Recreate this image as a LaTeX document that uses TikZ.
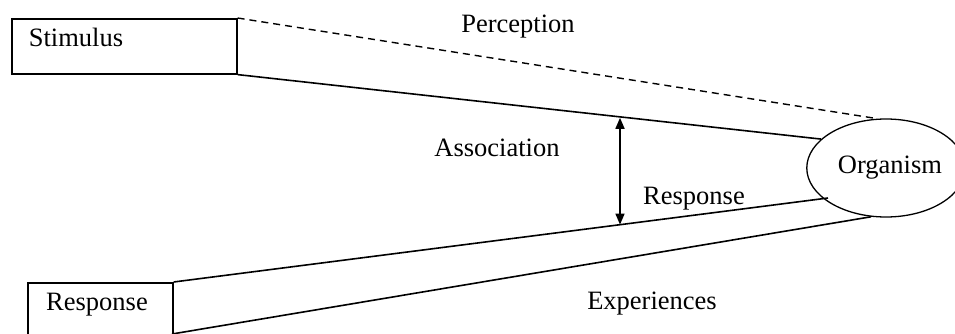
\documentclass[tikz,border=0pt]{standalone}
\usepackage{fontspec}
\setmainfont{Liberation Serif}
\usetikzlibrary{shapes.geometric,arrows.meta}
\begin{document}
\begin{tikzpicture}[x=1pt,y=-1pt,line width=1.6pt,
  lbl/.style={font=\fontsize{26.5}{30}\selectfont, anchor=base, inner sep=0pt},
  boxnode/.style={draw, rectangle, inner sep=0pt, anchor=north west, line width=1.6pt},
  orgnode/.style={draw, ellipse, inner sep=0pt, minimum width=134pt, minimum height=98pt, line width=1.3pt, font=\fontsize{26.5}{30}\selectfont},
  dashline/.style={dash pattern=on 7pt off 5pt, line width=1.4pt},
  twohead/.style={{Triangle[length=11pt,width=9pt]}-{Triangle[length=11pt,width=9pt]}, line width=1.6pt}]
\useasboundingbox (0,0) rectangle (955,334);
\fill[white] (0,0) rectangle (955,334);

\node[boxnode, minimum width=225pt, minimum height=55pt] (stim) at (11,18) {};
\node[lbl] (stimtxt) at (76,47) {Stimulus};

\node[boxnode, minimum width=145pt, minimum height=70pt] (resp) at (27,282) {};
\node[lbl] (resptxt) at (97,310) {Response};

\node[orgnode] (org) at (886,168) {\hspace{8pt}Organism};

\coordinate (respend) at (828,198);
\coordinate (respbot) at (172,334);

\draw[dashline] (stim.north east) -- (org.100);
\draw (stim.south east) -- (org.156);
\draw (resp.north east) -- (respend);
\draw (respbot) -- (org.253);

\coordinate (atop) at (620,117.8);
\coordinate (abot) at (620,224.6);
\draw[twohead] (atop) -- (abot);

\node[lbl] (perc) at (518,33) {Perception};
\node[lbl] (assoc) at (497,157) {Association};
\node[lbl] (resplbl) at (694,204) {Response};
\node[lbl] (exper) at (652,309) {Experiences};
\end{tikzpicture}
\end{document}
